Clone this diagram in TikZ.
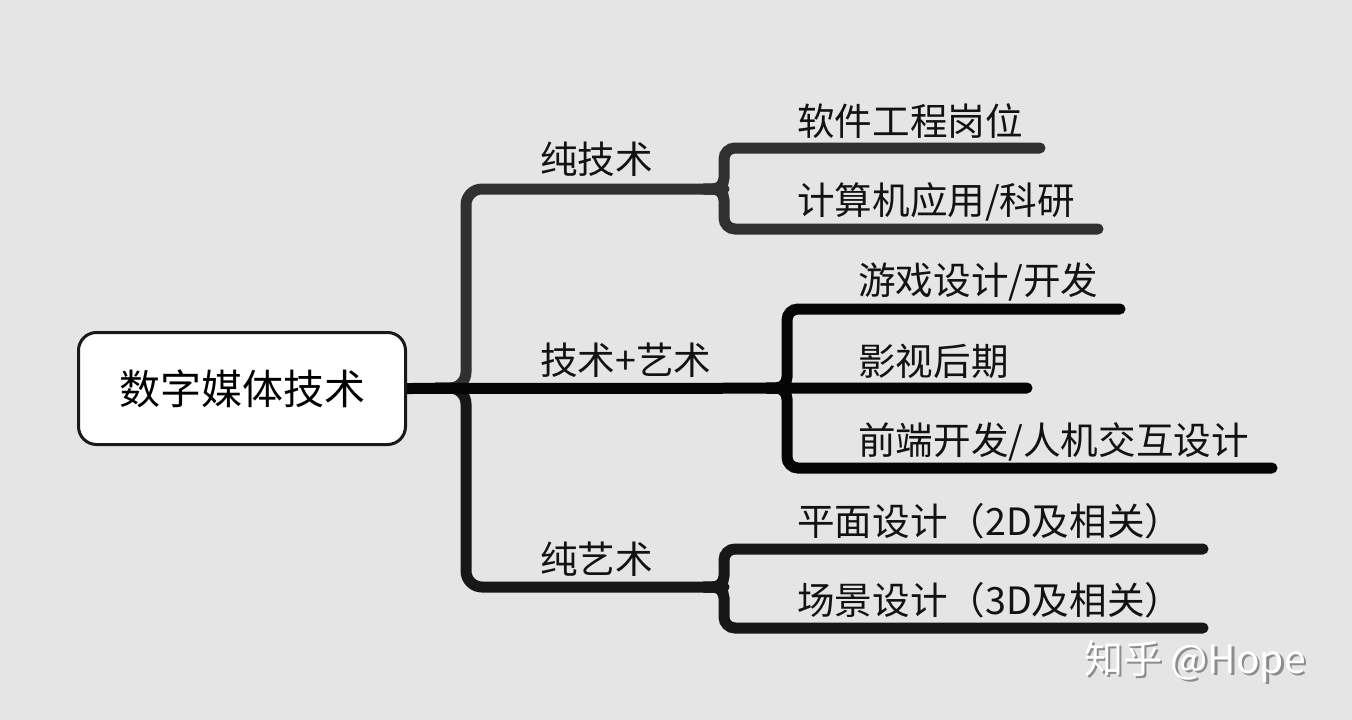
\documentclass[tikz,border=0pt]{standalone}
\usepackage{fontspec}
\newfontfamily\cjk{Noto Sans CJK SC}
\usetikzlibrary{backgrounds}
\definecolor{bg}{HTML}{E5E5E5}
\definecolor{upc}{HTML}{303030}
\definecolor{loc}{HTML}{171717}
\definecolor{midc}{HTML}{050505}
\begin{document}
\begin{tikzpicture}[x=1pt,y=-1pt,
  wire/.style={line width=11pt,line cap=round,rounded corners=13pt},
  leaf/.style={anchor=base west,inner sep=0pt,font=\cjk\fontsize{37.6}{40}\selectfont,text=black!93},
  branch/.style={anchor=base west,inner sep=0pt,font=\cjk\fontsize{37.6}{40}\selectfont,text=black!93},
  wmark/.style={anchor=base west,inner sep=0pt,font=\cjk\fontsize{39}{42}\selectfont},
  rootbox/.style={draw=black!90,line width=3pt,fill=white,rounded corners=18pt,minimum width=327pt,minimum height=112pt,inner sep=0pt,font=\cjk\fontsize{41}{44}\selectfont}]
\useasboundingbox (0,0) rectangle (1352,720);

\node[rootbox] (root) at (242,388.5) {数字媒体技术};

% junction coordinates
\coordinate (j0) at (466,388);
\coordinate (ju) at (724,189);
\coordinate (jm) at (787,388);
\coordinate (jl) at (724,587);
\coordinate (e1) at (1040,148);
\coordinate (e2) at (1098,229);
\coordinate (e3) at (1120,309);
\coordinate (e4) at (1027,388);
\coordinate (e5) at (1272,468);
\coordinate (e6) at (1203,549);
\coordinate (e7) at (1203,628);

\begin{scope}[on background layer]
\fill[bg] (0,0) rectangle (1352,720);
% upper branch
\draw[wire,upc,rounded corners=16pt] ([xshift=-30pt]j0) -- (j0) -- (j0 |- ju) -- (ju);
\draw[wire,upc,rounded corners=11pt] ([xshift=-20pt]ju) -- (ju) -- (ju |- e1) -- (e1);
\draw[wire,upc,rounded corners=11pt] ([xshift=-20pt]ju) -- (ju) -- (ju |- e2) -- (e2);
% lower branch
\draw[wire,loc,rounded corners=16pt] ([xshift=-30pt]j0) -- (j0) -- (j0 |- jl) -- (jl);
\draw[wire,loc,rounded corners=11pt] ([xshift=-20pt]jl) -- (jl) -- (jl |- e6) -- (e6);
\draw[wire,loc,rounded corners=11pt] ([xshift=-20pt]jl) -- (jl) -- (jl |- e7) -- (e7);
% middle branch
\draw[wire,midc,rounded corners=11pt] ([xshift=-20pt]jm) -- (jm) -- (jm |- e3) -- (e3);
\draw[wire,midc,rounded corners=11pt] ([xshift=-20pt]jm) -- (jm) -- (jm |- e5) -- (e5);
\draw[wire,midc] (root.east) -- (e4);
\end{scope}

% branch labels
\node[branch] (b1) at (540,173) {纯技术};
\node[branch] (b2) at (540,374) {技术+艺术};
\node[branch] (b3) at (540,573) {纯艺术};

% leaf labels
\node[leaf] (l1) at (797,135) {软件工程岗位};
\node[leaf] (l2) at (797,214) {计算机应用/科研};
\node[leaf] (l3) at (858,294) {游戏设计/开发};
\node[leaf] (l4) at (858,375) {影视后期};
\node[leaf] (l5) at (858,454) {前端开发/人机交互设计};
\node[leaf] (l6) at (797,535) {平面设计（2D及相关）};
\node[leaf] (l7) at (797,614) {场景设计（3D及相关）};

% watermark
\node[wmark,text=black!45] (wms) at (1086.5,675) {知乎 @Hope};
\node[wmark,text=white] (wm) at (1084,673) {知乎 @Hope};
\end{tikzpicture}
\end{document}
